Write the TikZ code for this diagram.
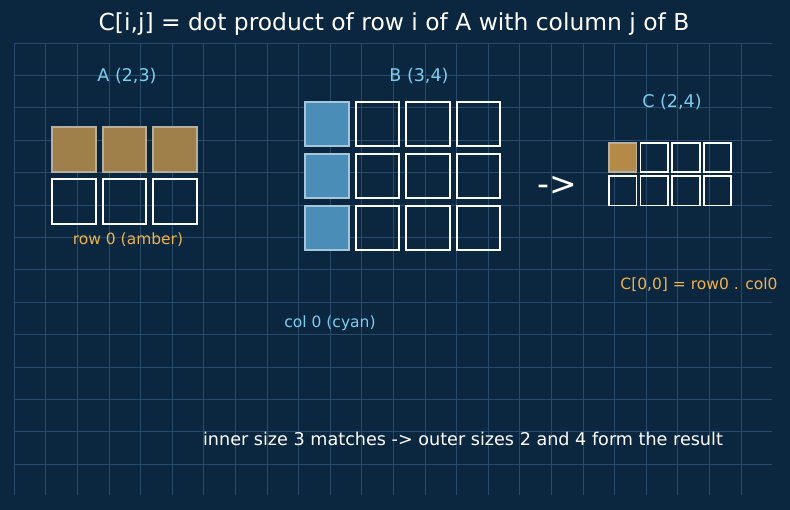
\documentclass[tikz,border=0pt]{standalone}
\usepackage{fontspec}
\setmainfont{DejaVu Sans}
\usetikzlibrary{positioning}

\definecolor{bgblue}{HTML}{0B2740}
\definecolor{gridblue}{HTML}{294B6B}
\definecolor{labcyan}{HTML}{7CCDEE}
\definecolor{labamber}{HTML}{F0B24C}
\definecolor{amberfill}{HTML}{A0804A}
\definecolor{amberline}{HTML}{B8AE9C}
\definecolor{cyanfill}{HTML}{4A8DB6}
\definecolor{cyanline}{HTML}{A6C4DA}
\definecolor{camber}{HTML}{B58A48}

\tikzset{
    cell/.style={draw=white, line width=2pt, minimum width=43.3pt, minimum height=44.5pt, inner sep=0pt},
    amb/.style={fill=amberfill, draw=amberline},
    cyn/.style={fill=cyanfill, draw=cyanline},
    small/.style={draw=white, line width=1.8pt, minimum width=27.7pt, minimum height=29.2pt, inner sep=0pt},
    lab/.style={text=labcyan, font=\fontsize{17.5}{20}\selectfont},
    note/.style={font=\fontsize{15.5}{18}\selectfont},
}

\begin{document}
\begin{tikzpicture}[x=1pt, y=-1pt, node distance=5.5pt and 5.2pt]
    \useasboundingbox (0,0) rectangle (790,510);
    \fill[bgblue] (0,0) rectangle (790,510);
    % grid
    \foreach \i in {0,...,23} \draw[gridblue, line width=0.6pt] (14+31.6*\i,43) -- (14+31.6*\i,495);
    \foreach \j in {0,...,13} \draw[gridblue, line width=0.6pt] (14,43+32.4*\j) -- (772,43+32.4*\j);

    \node[text=white, font=\fontsize{23.4}{26}\selectfont] (title) at (394,24) {C[i,j] = dot product of row i of A with column j of B};

    % A
    \node[cell, amb] (a00) at (74,149.7) {};
    \node[cell, amb, right = of a00] (a01) {};
    \node[cell, amb, right = of a01] (a02) {};
    \node[cell, below = of a00] (a10) {};
    \node[cell, right = of a10] (a11) {};
    \node[cell, right = of a11] (a12) {};
    \node[lab] (alab) at (127,76) {A (2,3)};
    \node[note, text=labamber] (arow) at (128,240) {row 0 (amber)};

    % B
    \node[cell, cyn] (b00) at (327,124) {};
    \node[cell, right = of b00] (b01) {};
    \node[cell, right = of b01] (b02) {};
    \node[cell, right = of b02] (b03) {};
    \node[cell, cyn, below = of b00] (b10) {};
    \node[cell, right = of b10] (b11) {};
    \node[cell, right = of b11] (b12) {};
    \node[cell, right = of b12] (b13) {};
    \node[cell, cyn, below = of b10] (b20) {};
    \node[cell, right = of b20] (b21) {};
    \node[cell, right = of b21] (b22) {};
    \node[cell, right = of b22] (b23) {};
    \node[lab] (blab) at (419,76) {B (3,4)};
    \node[note, text=labcyan] (bcol) at (330,323) {col 0 (cyan)};

    \node[text=white, font=\fontsize{33}{36}\selectfont] (arrow) at (557,186) {->};

    % C
    \node[small, fill=camber, draw=amberline] (c00) at (622.7,157.8) {};
    \node[small, right = 2.1pt of c00] (c01) {};
    \node[small, right = 2.1pt of c01] (c02) {};
    \node[small, right = 2.1pt of c02] (c03) {};
    \node[small, below = 2.2pt of c00] (c10) {};
    \node[small, right = 2.1pt of c10] (c11) {};
    \node[small, right = 2.1pt of c11] (c12) {};
    \node[small, right = 2.1pt of c12] (c13) {};
    \node[lab] (clab) at (672,102) {C (2,4)};
    \node[note, text=labamber] (cdot) at (699,285) {C[0,0] = row0 . col0};

    \node[text=white, font=\fontsize{17.6}{20}\selectfont] (bottom) at (463,439) {inner size 3 matches -> outer sizes 2 and 4 form the result};
\end{tikzpicture}
\end{document}
